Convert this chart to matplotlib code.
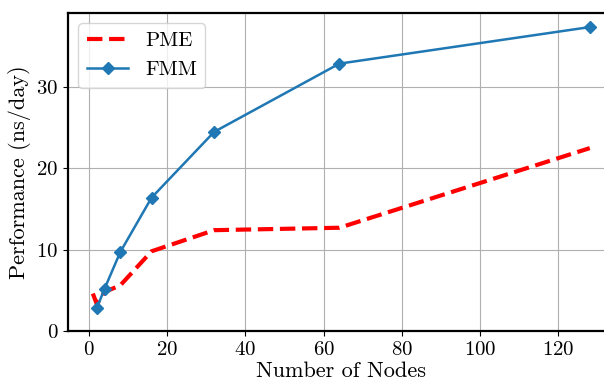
import matplotlib
matplotlib.use("Agg")
import matplotlib.pyplot as plt
from matplotlib.ticker import MultipleLocator

plt.rcParams["font.family"] = ["cmr10", "DejaVu Serif"]
plt.rcParams["mathtext.fontset"] = "cm"
plt.rcParams["axes.formatter.use_mathtext"] = True

# node counts and performance (ns/day)
pme_nodes = [1, 2, 4, 8, 16, 32, 64, 128]
pme_perf = [4.6, 3.3, 4.8, 5.6, 9.8, 12.4, 12.7, 22.5]
fmm_nodes = [2, 4, 8, 16, 32, 64, 128]
fmm_perf = [2.8, 5.2, 9.7, 16.4, 24.5, 32.9, 37.4]

fig = plt.figure(figsize=(6.04, 3.83), dpi=100)
ax = fig.add_axes([0.1126, 0.136, 0.905, 0.830])
ax.plot(pme_nodes, pme_perf, "--", color="red", lw=3, label="PME")
ax.plot(fmm_nodes, fmm_perf, "-", color="#1f77b4", lw=1.8, marker="D",
        markersize=6.5, label="FMM")
ax.set_ylim(bottom=0)
ax.yaxis.set_major_locator(MultipleLocator(10))
ax.set_xlabel("Number of Nodes", fontsize=16, labelpad=2)
ax.set_ylabel("Performance (ns/day)", fontsize=16)
ax.tick_params(labelsize=15)
ax.grid(True, color="#b0b0b0", lw=0.8)
for s in ax.spines.values():
    s.set_linewidth(1.6)
ax.legend(loc="upper left", fontsize=15)
fig.savefig("out.png", dpi=100)
